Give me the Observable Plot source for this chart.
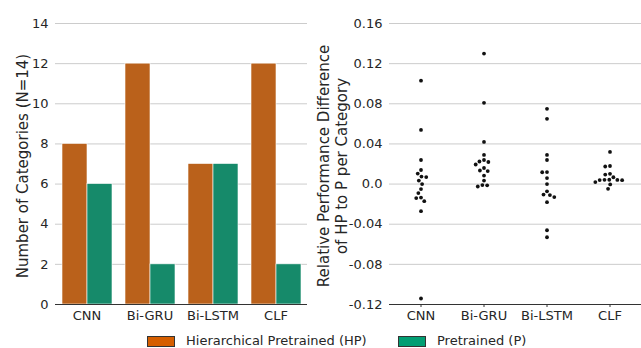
<!DOCTYPE html>
<html>
<head>
<meta charset="utf-8">
<script src="https://cdn.jsdelivr.net/npm/d3@7"></script>
<script src="https://cdn.jsdelivr.net/npm/@observablehq/plot@0.6"></script>
<style>
  html, body { margin: 0; padding: 0; background: #fff; }
  #root { position: relative; width: 641px; height: 348px; overflow: hidden; font-family: "DejaVu Sans", sans-serif; color: #262626; }
  .panel { position: absolute; top: 0; }
  .ylab { position: absolute; font-size: 15px; white-space: nowrap; text-align: center; line-height: 18px; transform-origin: center center; }
  .legend { position: absolute; top: 333px; left: 0; width: 641px; height: 15px; font-size: 13px; }
  .sw { position: absolute; top: 3px; width: 26px; height: 9px; border: 1px solid #333; }
  .lt { position: absolute; top: 0; line-height: 15px; }
</style>
</head>
<body>
<div id="root"></div>
<script>
const models = ["CNN", "Bi-GRU", "Bi-LSTM", "CLF"];
const seriesTypes = ["Hierarchical Pretrained (HP)", "Pretrained (P)"];
const hpCounts = [8, 12, 7, 12];
const pCounts = [6, 2, 7, 2];
const leftTicks = [0, 2, 4, 6, 8, 10, 12, 14];
const rightTicks = [-0.12, -0.08, -0.04, 0, 0.04, 0.08, 0.12, 0.16];

const cnnDiff = [0.103, 0.054, 0.024, 0.014, 0.0105, 0.0075, 0.007, 0.0035, 0.000, -0.005, -0.009, -0.0135, -0.014, -0.017, -0.027, -0.114];
const bigruDiff = [0.130, 0.081, 0.042, 0.029, 0.024, 0.0225, 0.022, 0.0195, 0.016, 0.0135, 0.013, 0.0085, 0.0035, -0.001, -0.0012, -0.0024];
const bilstmDiff = [0.075, 0.065, 0.029, 0.024, 0.012, 0.0118, 0.006, 0.000, -0.0072, -0.0105, -0.011, -0.013, -0.018, -0.046, -0.053];
const clfDiff = [0.032, 0.018, 0.0175, 0.0102, 0.0095, 0.0068, 0.0043, 0.0042, 0.0041, 0.004, 0.0039, 0.002, -0.0004, -0.0047];

const leftLabel = "Number of Categories (N=14)";
const rightLabel = ["Relative Performance Difference", "of HP to P per Category"];

const barColors = ["#ba611b", "#168a6a"];
const legendColors = ["#d55e00", "#029e73"];

const bars = models.flatMap((m, i) => [
  {model: m, type: "HP", count: hpCounts[i]},
  {model: m, type: "P", count: pCounts[i]}
]);
const diffLists = [cnnDiff, bigruDiff, bilstmDiff, clfDiff];
const diffs = models.flatMap((m, i) => diffLists[i].map(v => ({model: m, value: v})));

const baseStyle = {fontFamily: "DejaVu Sans, sans-serif", fontSize: "13px", color: "#262626", background: "transparent", overflow: "visible"};

const left = Plot.plot({
  width: 320, height: 324,
  marginLeft: 55, marginRight: 13, marginTop: 23, marginBottom: 20,
  style: baseStyle,
  fx: {domain: models, padding: 0, label: null},
  x: {domain: ["HP", "P"], paddingInner: 0, paddingOuter: 0.25, axis: null},
  y: {domain: [0, 14], label: null},
  color: {domain: ["HP", "P"], range: barColors},
  marks: [
    Plot.gridY({ticks: leftTicks, stroke: "#cccccc", strokeOpacity: 1}),
    Plot.barY(bars, {fx: "model", x: "type", y: "count", fill: "type", stroke: "#ffffff", strokeWidth: 0.6}),
    Plot.ruleY([0], {stroke: "#333333", strokeWidth: 1}),
    Plot.axisY({ticks: leftTicks, tickSize: 0, tickPadding: 7, label: null}),
    Plot.axisFx({anchor: "bottom", tickSize: 0, tickPadding: 6, label: null})
  ]
});

const right = Plot.plot({
  width: 321, height: 324,
  marginLeft: 69, marginRight: 0, marginTop: 23, marginBottom: 20,
  style: baseStyle,
  fx: {domain: models, padding: 0, label: null},
  y: {domain: [-0.12, 0.16], label: null},
  marks: [
    Plot.gridY({ticks: rightTicks, stroke: "#cccccc", strokeOpacity: 1}),
    Plot.ruleY([-0.12], {stroke: "#333333", strokeWidth: 1}),
    Plot.axisY({ticks: rightTicks, tickFormat: d => Math.abs(d) < 1e-9 ? "0.0" : d.toFixed(2), tickSize: 0, tickPadding: 7, label: null}),
    Plot.axisFx({anchor: "bottom", tickSize: 3, tickPadding: 3, label: null, stroke: "#333333"}),
    Plot.dot(diffs, Plot.dodgeX("middle", {fx: "model", y: "value", r: 1.9, fill: "#111111", stroke: "none", padding: 0}))
  ]
});

const root = document.getElementById("root");
left.classList.add("panel"); left.style.left = "0px";
right.classList.add("panel"); right.style.left = "320px";
root.appendChild(left);
root.appendChild(right);

function addYLabel(lines, cx, cy) {
  const d = document.createElement("div");
  d.className = "ylab";
  d.innerHTML = lines.map(t => `<div>${t}</div>`).join("");
  root.appendChild(d);
  const w = d.offsetWidth, h = d.offsetHeight;
  d.style.left = (cx - w / 2) + "px";
  d.style.top = (cy - h / 2) + "px";
  d.style.transform = "rotate(-90deg)";
}
addYLabel([leftLabel], 23, 166);
addYLabel(rightLabel, 333, 166);

const lg = document.createElement("div");
lg.className = "legend";
const swX = [147, 398], txX = [186, 437];
seriesTypes.forEach((t, i) => {
  const s = document.createElement("div");
  s.className = "sw"; s.style.left = swX[i] + "px"; s.style.background = legendColors[i];
  const l = document.createElement("div");
  l.className = "lt"; l.style.left = txX[i] + "px"; l.textContent = t;
  lg.appendChild(s); lg.appendChild(l);
});
root.appendChild(lg);
</script>
</body>
</html>
